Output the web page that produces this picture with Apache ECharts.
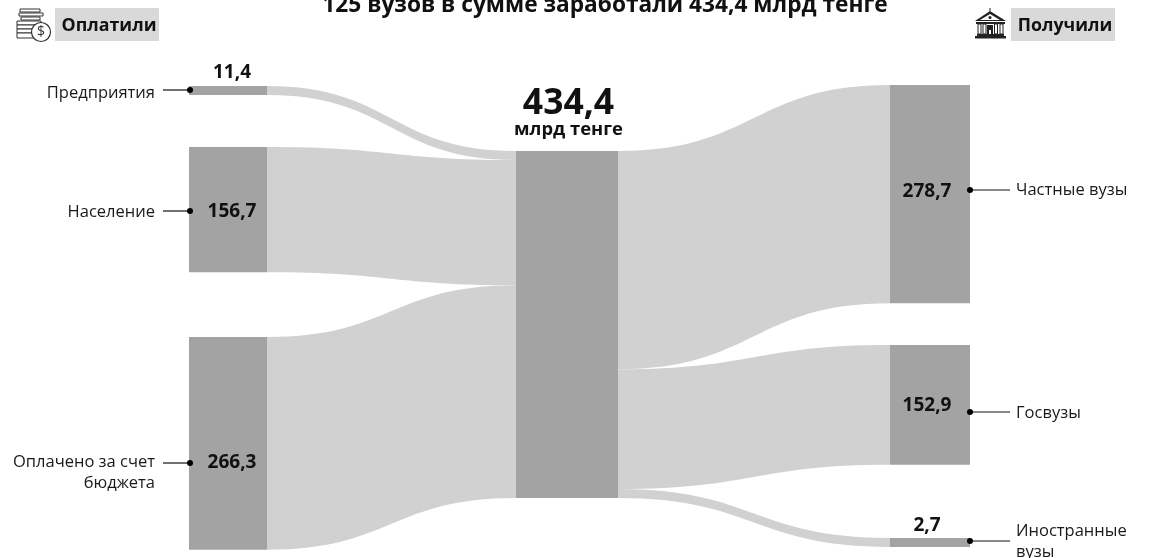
<!DOCTYPE html>
<html>
<head>
<meta charset="utf-8">
<style>
  html, body { margin: 0; padding: 0; background: #fff; }
  #chart { width: 1153px; height: 558px; }
</style>
<script src="https://cdn.jsdelivr.net/npm/echarts@6/dist/echarts.min.js"></script>
</head>
<body>
<div id="chart"></div>
<script>
const titleText = '125 вузов в сумме заработали 434,4 млрд тенге';
const payerNames = ['Предприятия', 'Население', 'Оплачено за счет\nбюджета'];
const payerValues = [11.4, 156.7, 266.3];
const totalValue = 434.4;
const totalUnit = 'млрд тенге';
const receiverNames = ['Частные вузы', 'Госвузы', 'Иностранные\nвузы'];
const receiverValues = [278.7, 152.9, 2.7];
// the source draws the tiny 2,7 flow as thick as the 11,4 one (minimum band width)
const receiverDrawnValues = [278.7, 152.9, 11.4];

const FONT = '"Open Sans", sans-serif';
const W = 1153;
const H = 558;
const DARK = '#a3a3a3';
const LIGHT = '#d1d1d1';
const fmt = (v) => String(v).replace('.', ',');

// column layout, px
const payerTops = [86, 147, 337];
const receiverTops = [85, 345, 538];
const centerTop = 151;
const nodeGap = (H - 347) / 2; // leaves 347px for a full column

const valueLabel = (v, position, offset) => ({
  show: true,
  position: position,
  offset: offset,
  formatter: fmt(v),
  color: '#111',
  fontFamily: FONT,
  fontWeight: 'bold',
  fontSize: 19
});

const payerLabelPos = [['top', [4, 1]], ['inside', [4, 2]], ['inside', [4, 19]]];
const receiverLabelPos = [['inside', [-3, -3]], ['inside', [-3, 1]], ['top', [-3, 2]]];

const sankeyBase = {
  type: 'sankey',
  left: 0,
  top: 0,
  width: W,
  height: H,
  nodeGap: nodeGap,
  layoutIterations: 0,
  draggable: false,
  silent: true,
  emphasis: { disabled: true },
  itemStyle: { color: DARK, borderWidth: 0 },
  lineStyle: { color: LIGHT, opacity: 1, curveness: 0.5 },
  label: { show: false }
};

// two series so the middle block can be wider than the outer columns
const leftSeries = Object.assign({}, sankeyBase, {
  nodeWidth: 78,
  data: payerNames.map((name, i) => ({
    name: name,
    localX: 189 / W,
    localY: payerTops[i] / H,
    label: valueLabel(payerValues[i], payerLabelPos[i][0], payerLabelPos[i][1])
  })).concat([{
    name: 'total',
    localX: 516 / W,
    localY: centerTop / H,
    label: {
      show: true,
      position: 'top',
      offset: [13.5, -5],
      formatter: '{a|' + fmt(totalValue) + '}\n{b|' + totalUnit + '}',
      rich: {
        a: { fontFamily: FONT, fontWeight: 'bold', fontSize: 35.5, lineHeight: 30, color: '#111' },
        b: { fontFamily: FONT, fontWeight: 'bold', fontSize: 18.4, lineHeight: 22, color: '#111' }
      }
    }
  }]),
  links: payerNames.map((name, i) => ({ source: name, target: 'total', value: payerValues[i] }))
});

const rightSeries = Object.assign({}, sankeyBase, {
  nodeWidth: 80,
  data: [{
    name: 'total',
    localX: 538 / W,
    localY: centerTop / H
  }].concat(receiverNames.map((name, i) => ({
    name: name,
    localX: 890 / W,
    localY: receiverTops[i] / H,
    label: valueLabel(receiverValues[i], receiverLabelPos[i][0], receiverLabelPos[i][1])
  }))),
  links: receiverNames.map((name, i) => ({ source: 'total', target: name, value: receiverDrawnValues[i] }))
});

// leader lines and names beside the columns
const sideText = (text, x, y, align) => ({
  type: 'text',
  x: x,
  y: y,
  style: {
    text: text,
    fill: '#1a1a1a',
    font: '16.5px ' + FONT,
    align: align,
    verticalAlign: 'middle',
    lineHeight: 21
  }
});
const leader = (x1, x2, dotX, y) => [
  { type: 'line', shape: { x1: x1, y1: y, x2: x2, y2: y }, style: { stroke: '#111', lineWidth: 1.2 } },
  { type: 'circle', shape: { cx: dotX, cy: y, r: 3 }, style: { fill: '#000' } }
];

const payerLeaderY = [90, 211, 463];
const receiverLeaderY = [190, 412, 541];
const payerTextY = [93, 212, 473];
const receiverTextY = [190, 413, 541.5];

let leaders = [];
payerNames.forEach((name, i) => {
  leaders = leaders.concat(leader(163, 190, 190, payerLeaderY[i]));
  leaders.push(sideText(name, 155, payerTextY[i], 'right'));
});
receiverNames.forEach((name, i) => {
  leaders = leaders.concat(leader(970, 1010, 970, receiverLeaderY[i]));
  leaders.push(sideText(name, 1016, receiverTextY[i], 'left'));
});

const outline = { stroke: '#333', fill: '#fff', lineWidth: 1 };
const coinsIcon = [
  [20, 9, 20, 3], [19, 13, 24, 3], [21, 17, 19, 3],
  [17, 21, 24, 4], [17, 25, 24, 4], [17, 29, 24, 4], [17, 33, 24, 5]
].map((r) => ({
  type: 'rect', shape: { x: r[0], y: r[1], width: r[2], height: r[3] }, style: outline
})).concat([
  { type: 'circle', shape: { cx: 41, cy: 32, r: 9.5 }, style: { stroke: '#333', fill: '#fff', lineWidth: 1.2 } },
  { type: 'text', x: 41, y: 32, style: { text: '$', fill: '#333', font: '14px ' + FONT, align: 'center', verticalAlign: 'middle' } }
]);

const bankIcon = [
  { type: 'polygon', shape: { points: [[990, 11], [1006, 21], [975, 21]] }, style: { fill: '#222' } },
  { type: 'polygon', shape: { points: [[990, 14], [1000, 20], [980, 20]] }, style: { fill: '#fff' } },
  { type: 'circle', shape: { cx: 990, cy: 17.5, r: 1.5 }, style: { fill: '#222' } },
  { type: 'line', shape: { x1: 990, y1: 8, x2: 990, y2: 11 }, style: { stroke: '#222', lineWidth: 1 } },
  { type: 'rect', shape: { x: 976, y: 22, width: 29, height: 2 }, style: { fill: '#222' } },
  { type: 'rect', shape: { x: 975, y: 36, width: 31, height: 2.5 }, style: { fill: '#222' } },
  { type: 'rect', shape: { x: 977, y: 34, width: 27, height: 2 }, style: { fill: '#222' } }
].concat([978, 983, 994.5, 1000].map((x) => ({
  type: 'rect', shape: { x: x, y: 24, width: 3, height: 10 }, style: { stroke: '#222', fill: '#fff', lineWidth: 1 }
}))).concat([
  { type: 'rect', shape: { x: 987, y: 25, width: 6, height: 9 }, style: { fill: '#222' } },
  { type: 'rect', shape: { x: 989, y: 30, width: 2, height: 4 }, style: { fill: '#fff' } }
]);

const header = (x, text) => [
  { type: 'rect', shape: { x: x, y: 8, width: 104, height: 33 }, style: { fill: '#d9d9d9' } },
  { type: 'text', z: 101, x: x + 54, y: 26, style: { text: text, fill: '#111', font: 'bold 17.8px ' + FONT, align: 'center', verticalAlign: 'middle' } }
];

const option = {
  animation: false,
  backgroundColor: '#fff',
  title: {
    text: titleText,
    left: 600,
    top: -11,
    textAlign: 'center',
    textStyle: { fontFamily: FONT, fontWeight: 'bold', fontSize: 22.7, color: '#111' }
  },
  graphic: {
    elements: leaders
      .concat(header(55, 'Оплатили'))
      .concat(header(1011, 'Получили'))
      .concat(coinsIcon.map((el) => Object.assign({ z: 101 }, el)))
      .concat(bankIcon.map((el) => Object.assign({ z: 101 }, el)))
      .map((el) => Object.assign({ silent: true, z: 100 }, el))
  },
  series: [leftSeries, rightSeries]
};

const chart = echarts.init(document.getElementById('chart'));
chart.setOption(option);
</script>
</body>
</html>
